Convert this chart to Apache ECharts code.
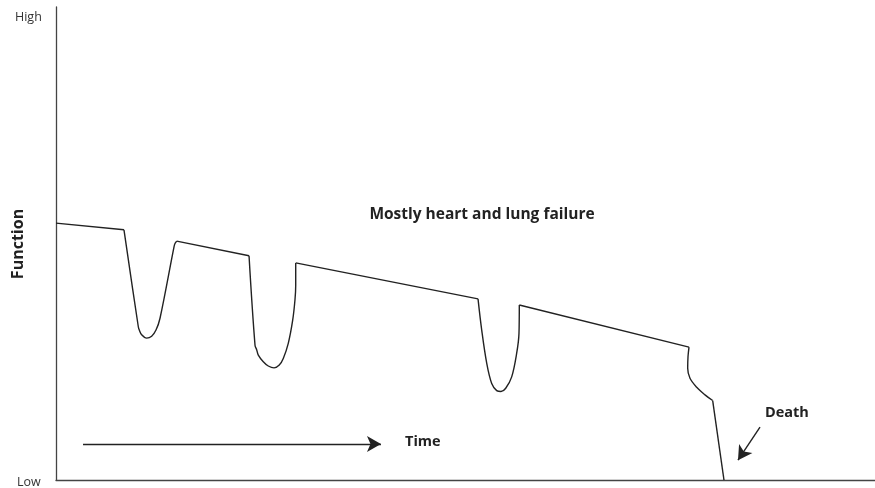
<!DOCTYPE html>
<html>
<head>
<meta charset="utf-8">
<script src="https://cdn.jsdelivr.net/npm/echarts@6/dist/echarts.min.js"></script>
<style>html,body{margin:0;padding:0;background:#fff;}#c{width:875px;height:488px;}</style>
</head>
<body>
<div id="c"></div>
<script>
// Time (0-100) and function (0 = Low, 100 = High)
var timeValues = [0, 8.30, 10.05, 10.17, 10.46, 11.07, 11.68, 12.21, 12.70, 14.41, 14.53, 14.74,
  23.57, 24.30, 24.51, 24.70, 25.31, 25.92, 26.62, 27.26, 27.75, 28.36, 28.90, 29.18, 29.27, 29.27,
  51.53, 51.98, 52.59, 53.20, 53.81, 54.33, 54.91, 55.64, 56.25, 56.53, 56.57,
  77.29, 77.17, 77.13, 77.41, 78.23, 79.24, 80.18, 81.56];
var functionValues = [54.3, 52.9, 32.4, 31.7, 30.7, 30.0, 30.4, 31.7, 34.2, 49.3, 50.0, 50.5,
  47.4, 28.5, 27.5, 26.4, 25.0, 24.1, 23.7, 24.3, 25.7, 28.9, 33.8, 38.1, 41.2, 45.9,
  38.3, 31.7, 24.7, 20.4, 18.9, 18.7, 19.4, 21.8, 26.8, 31.0, 37.0,
  28.1, 26.1, 23.6, 21.5, 19.6, 18.0, 16.8, 0];
// index ranges of the curved episodes (acute illness dips) and of the straight stretches
var curvedRanges = [[1, 11], [12, 25], [26, 36], [37, 43]];
var straightRanges = [[0, 1], [11, 12], [25, 26], [36, 37], [43, 44]];
var yTickLabels = ['Low', 'High'];
var timeArrow = [[3.3, 7.6], [39.68, 7.6]];
var deathArrow = [[85.96, 11.2], [83.27, 4.2]];

var chart = echarts.init(document.getElementById('c'));
var pts = timeValues.map(function (t, i) { return [t, functionValues[i]]; });
var LINE = { color: '#222', width: 1.4 };
var series = [];
curvedRanges.forEach(function (r) {
  series.push({ type: 'line', data: pts.slice(r[0], r[1] + 1), symbol: 'none', smooth: 0.35, lineStyle: LINE, silent: true });
});
straightRanges.forEach(function (r) {
  series.push({ type: 'line', data: pts.slice(r[0], r[1] + 1), symbol: 'none', smooth: false, lineStyle: LINE, silent: true });
});
series.push({
  type: 'line', data: [], symbol: 'none',
  markLine: {
    silent: true,
    symbol: ['none', 'arrow'],
    symbolSize: [12, 14],
    label: { show: false },
    lineStyle: { color: '#222', width: 1.4, type: 'solid' },
    data: [
      [{ coord: timeArrow[0] }, { coord: timeArrow[1] }],
      [{ coord: deathArrow[0] }, { coord: deathArrow[1] }]
    ]
  }
});
var FONT = '"Open Sans", Lato, sans-serif';
chart.setOption({
  animation: false,
  grid: { left: 56, right: 0, top: 7, bottom: 8 },
  xAxis: {
    type: 'value', min: 0, max: 100,
    axisLine: { show: true, lineStyle: { color: '#444', width: 1.3 } },
    axisTick: { show: false }, axisLabel: { show: false }, splitLine: { show: false }
  },
  yAxis: {
    type: 'value', min: 0, max: 100,
    axisLine: { show: true, lineStyle: { color: '#444', width: 1.3 } },
    axisTick: { show: false }, axisLabel: { show: false }, splitLine: { show: false }
  },
  series: series,
  graphic: [
    { type: 'text', x: 15, y: 17, style: { text: yTickLabels[1], font: '12.5px ' + FONT, fill: '#333', verticalAlign: 'middle' } },
    { type: 'text', x: 17, y: 482, style: { text: yTickLabels[0], font: '12.5px ' + FONT, fill: '#333', verticalAlign: 'middle' } },
    { type: 'text', x: 18, y: 244, rotation: Math.PI / 2, style: { text: 'Function', font: 'bold 16px ' + FONT, fill: '#222', align: 'center', verticalAlign: 'middle' } },
    { type: 'text', x: 482, y: 215, style: { text: 'Mostly heart and lung failure', font: 'bold 15.5px ' + FONT, fill: '#222', align: 'center', verticalAlign: 'middle' } },
    { type: 'text', x: 405, y: 442, style: { text: 'Time', font: 'bold 14.5px ' + FONT, fill: '#222', align: 'left', verticalAlign: 'middle' } },
    { type: 'text', x: 765, y: 413, style: { text: 'Death', font: 'bold 14.5px ' + FONT, fill: '#222', align: 'left', verticalAlign: 'middle' } }
  ]
});
</script>
</body>
</html>
